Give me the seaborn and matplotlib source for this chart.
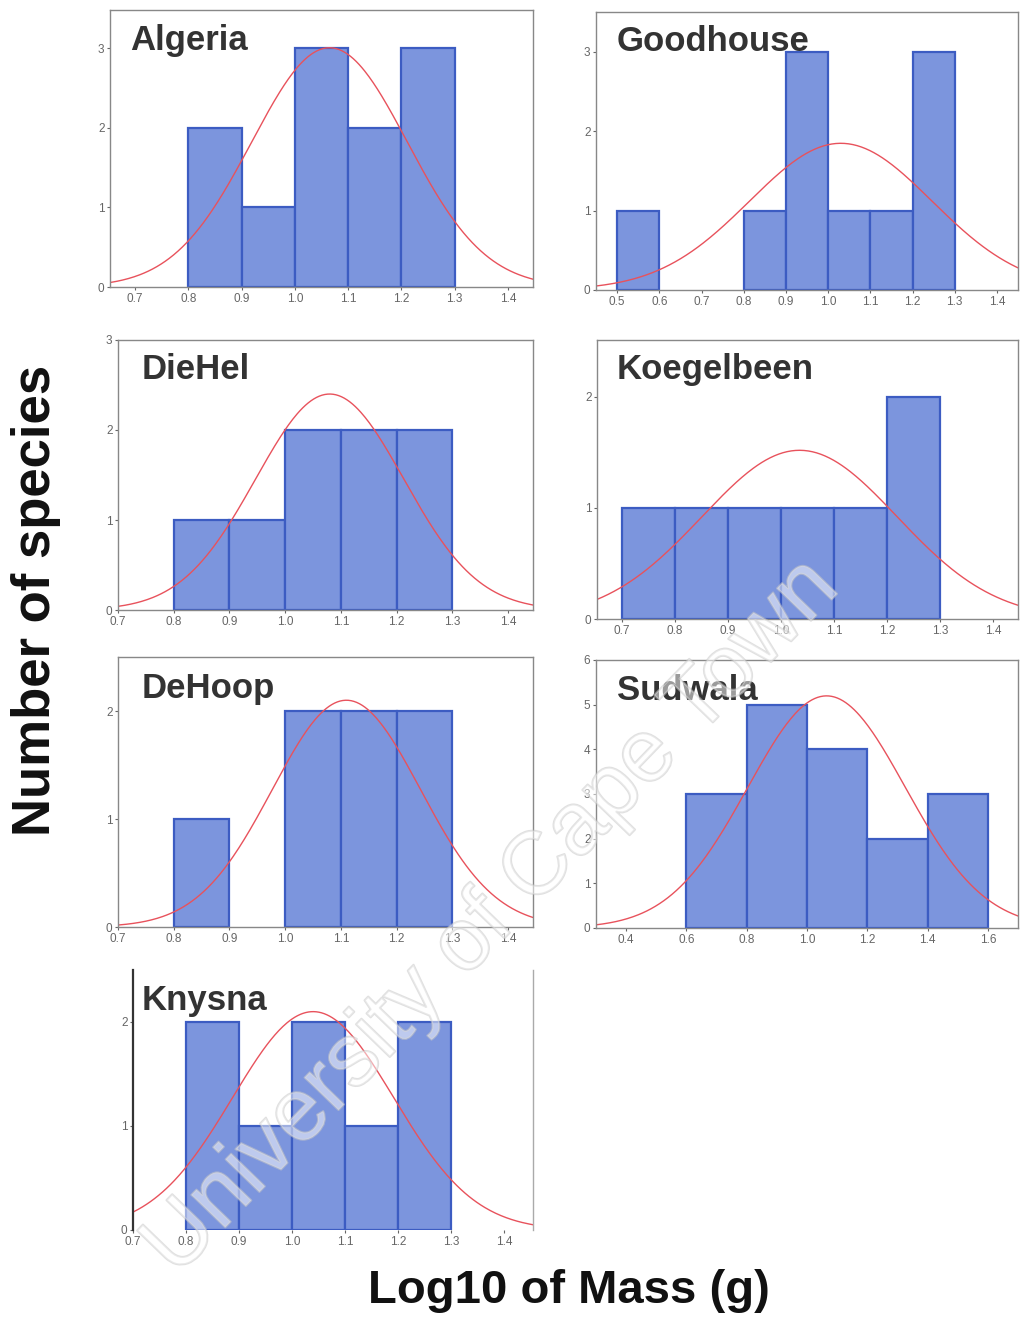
import numpy as np
import matplotlib
matplotlib.use("Agg")
import matplotlib.pyplot as plt
import matplotlib.patheffects as pe
import seaborn as sns

sns.set_style("ticks")
plt.rcParams['font.family'] = ['Liberation Sans', 'DejaVu Sans']

# ---------------- data ----------------
sites = ["Algeria", "Goodhouse", "DieHel", "Koegelbeen", "DeHoop", "Sudwala", "Knysna"]

algeria_edges = [0.8, 0.9, 1.0, 1.1, 1.2, 1.3]
algeria_counts = [2, 1, 3, 2, 3]
algeria_mu, algeria_sd = 1.065, 0.146

goodhouse_edges = [0.5, 0.6, 0.7, 0.8, 0.9, 1.0, 1.1, 1.2, 1.3]
goodhouse_counts = [1, 0, 0, 1, 3, 1, 1, 3]
goodhouse_mu, goodhouse_sd = 1.03, 0.216

diehel_edges = [0.8, 0.9, 1.0, 1.1, 1.2, 1.3]
diehel_counts = [1, 1, 2, 2, 2]
diehel_mu, diehel_sd = 1.08, 0.133

koegelbeen_edges = [0.7, 0.8, 0.9, 1.0, 1.1, 1.2, 1.3]
koegelbeen_counts = [1, 1, 1, 1, 1, 2]
koegelbeen_mu, koegelbeen_sd = 1.035, 0.184

dehoop_edges = [0.8, 0.9, 1.0, 1.1, 1.2, 1.3]
dehoop_counts = [1, 0, 2, 2, 2]
dehoop_mu, dehoop_sd = 1.11, 0.133

sudwala_edges = [0.6, 0.8, 1.0, 1.2, 1.4, 1.6]
sudwala_counts = [3, 5, 4, 2, 3]
sudwala_mu, sudwala_sd = 1.065, 0.261

knysna_edges = [0.8, 0.9, 1.0, 1.1, 1.2, 1.3]
knysna_counts = [2, 1, 2, 1, 2]
knysna_mu, knysna_sd = 1.04, 0.152

algeria_xticks = [0.7, 0.8, 0.9, 1.0, 1.1, 1.2, 1.3, 1.4]
goodhouse_xticks = [0.5, 0.6, 0.7, 0.8, 0.9, 1.0, 1.1, 1.2, 1.3, 1.4]
diehel_xticks = [0.7, 0.8, 0.9, 1.0, 1.1, 1.2, 1.3, 1.4]
koegelbeen_xticks = [0.7, 0.8, 0.9, 1.0, 1.1, 1.2, 1.3, 1.4]
dehoop_xticks = [0.7, 0.8, 0.9, 1.0, 1.1, 1.2, 1.3, 1.4]
sudwala_xticks = [0.4, 0.6, 0.8, 1.0, 1.2, 1.4, 1.6]
knysna_xticks = [0.7, 0.8, 0.9, 1.0, 1.1, 1.2, 1.3, 1.4]

algeria_yticks = [0, 1, 2, 3]
goodhouse_yticks = [0, 1, 2, 3]
diehel_yticks = [0, 1, 2, 3]
koegelbeen_yticks = [0, 1, 2]
dehoop_yticks = [0, 1, 2]
sudwala_yticks = [0, 1, 2, 3, 4, 5, 6]
knysna_yticks = [0, 1, 2]

ylabel = "Number of species"
xlabel = "Log10 of Mass (g)"
watermark = "University of Cape Town"

# ---------------- layout (pixel boxes: left, top, right, bottom) ----------------
W, H = 1023, 1332
panels = [
    ("Algeria", algeria_edges, algeria_counts, algeria_mu, algeria_sd, algeria_xticks, algeria_yticks,
     (110, 10, 533, 287), (0.653, 1.447), (0, 3.48), (20, 14)),
    ("Goodhouse", goodhouse_edges, goodhouse_counts, goodhouse_mu, goodhouse_sd, goodhouse_xticks, goodhouse_yticks,
     (596, 12, 1018, 290), (0.45, 1.45), (0, 3.5), (21, 13)),
    ("DieHel", diehel_edges, diehel_counts, diehel_mu, diehel_sd, diehel_xticks, diehel_yticks,
     (118, 340, 533, 610), (0.7, 1.445), (0, 3.0), (24, 13)),
    ("Koegelbeen", koegelbeen_edges, koegelbeen_counts, koegelbeen_mu, koegelbeen_sd, koegelbeen_xticks, koegelbeen_yticks,
     (597, 340, 1018, 619), (0.653, 1.447), (0, 2.51), (20, 13)),
    ("DeHoop", dehoop_edges, dehoop_counts, dehoop_mu, dehoop_sd, dehoop_xticks, dehoop_yticks,
     (118, 657, 533, 927), (0.7, 1.445), (0, 2.5), (24, 15)),
    ("Sudwala", sudwala_edges, sudwala_counts, sudwala_mu, sudwala_sd, sudwala_xticks, sudwala_yticks,
     (596, 660, 1018, 928), (0.3, 1.7), (0, 6.0), (21, 14)),
    ("Knysna", knysna_edges, knysna_counts, knysna_mu, knysna_sd, knysna_xticks, knysna_yticks,
     (133, 970, 533, 1230), (0.7, 1.455), (0, 2.5), (9, 14)),
]

fig = plt.figure(figsize=(W / 100, H / 100), dpi=100)
fig.patch.set_facecolor("white")

bar_face = "#7c95dd"
bar_edge = "#3c5cc2"
curve_col = "#e8525c"

for (name, edges, counts, mu, sd, xt, yt, box, xlim, ylim, toff) in panels:
    l, t, r, b = box
    ax = fig.add_axes([l / W, 1 - b / H, (r - l) / W, (b - t) / H])
    centers = [(edges[i] + edges[i + 1]) / 2 for i in range(len(counts))]
    sns.histplot(x=centers, weights=counts, bins=edges, ax=ax, stat="count",
                 color=bar_face, edgecolor=bar_edge, linewidth=1.6, alpha=1.0)
    for p in ax.patches:
        if p.get_height() == 0:
            p.set_visible(False)
    n = sum(counts)
    bw = edges[1] - edges[0]
    xs = np.linspace(xlim[0], xlim[1], 300)
    ys = n * bw * np.exp(-0.5 * ((xs - mu) / sd) ** 2) / (sd * np.sqrt(2 * np.pi))
    sns.lineplot(x=xs, y=ys, ax=ax, color=curve_col, linewidth=1.0)
    ax.set_xlim(*xlim)
    ax.set_ylim(*ylim)
    ax.set_xticks(xt)
    ax.set_xticklabels([f"{v:.1f}" for v in xt])
    ax.set_yticks(yt)
    ax.set_yticklabels([str(v) for v in yt])
    ax.tick_params(axis="both", labelsize=8.5, colors="#666666", length=2, width=0.8, pad=2)
    ax.set_xlabel("")
    ax.set_ylabel("")
    for s in ax.spines.values():
        s.set_color("#888888")
        s.set_linewidth(1.0)
    if name == "Knysna":
        ax.spines["top"].set_visible(False)
        ax.spines["bottom"].set_visible(False)
        ax.spines["left"].set_color("#333333")
        ax.spines["left"].set_linewidth(1.6)
        ax.spines["right"].set_color("#aaaaaa")
    ax.annotate(name, xy=(0, 1), xycoords="axes fraction", xytext=(toff[0], -toff[1]),
                textcoords="offset pixels", ha="left", va="top",
                fontsize=25, fontweight="bold", color="#333333")

fig.text(36 / W, 1 - 600 / H, ylabel, rotation=90, ha="center", va="center",
         fontsize=38, fontweight="bold", color="#111111")
fig.text(569 / W, 1 - 1291 / H, xlabel, ha="center", va="center",
         fontsize=34, fontweight="bold", color="#111111")

fig.text(492 / W, 1 - 918 / H, watermark, rotation=46, ha="center", va="center",
         fontsize=64, color=(1, 1, 1, 0.3), zorder=10,
         path_effects=[pe.withStroke(linewidth=1.5, foreground=(0.78, 0.78, 0.78, 0.55))])

fig.savefig("out.png", dpi=100, facecolor="white")
